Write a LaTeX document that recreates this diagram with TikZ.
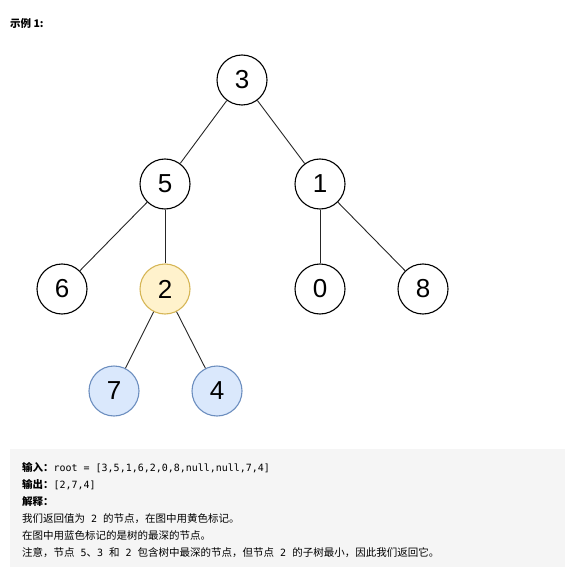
\documentclass[tikz,border=0pt]{standalone}
\usepackage{fontspec}
\setmainfont{Liberation Sans}
\newfontfamily\cjk{Noto Sans CJK SC}
\newfontfamily\codefont[Scale=0.95]{DejaVu Sans Mono}
\usepackage{xcolor}
\usetikzlibrary{positioning}
\definecolor{yellowfill}{HTML}{FFF2CC}
\definecolor{yellowline}{HTML}{D6B656}
\definecolor{bluefill}{HTML}{DAE8FC}
\definecolor{blueline}{HTML}{6C8EBF}
\definecolor{boxgray}{HTML}{F5F5F5}
\newcommand{\num}[1]{{\codefont\ #1\ }}

\begin{document}
\begin{tikzpicture}[x=1pt,y=-1pt]
	\tikzstyle{vertex}=[circle,draw=black,line width=1.1pt,fill=white,minimum size=50pt,inner sep=0pt,font=\fontsize{26}{26}\selectfont]
	\tikzstyle{root}=[vertex,fill=yellowfill,draw=yellowline]
	\tikzstyle{deep}=[vertex,fill=bluefill,draw=blueline]
	\tikzstyle{line}=[anchor=base west,inner sep=0pt,font=\cjk\fontsize{10.5}{10.5}\selectfont]
	\useasboundingbox (0,0) rectangle (565,577);
	\node[anchor=base west,inner sep=0pt,font=\cjk\bfseries\fontsize{10.5}{10.5}\selectfont] (title) at (10,28) {示例 1:};
	% tree
	\node[vertex](v3) at (242,80){3};
	\node[vertex](v5) at (165,184){5};
	\node[vertex](v1) at (320,184){1};
	\node[vertex](v6) at (62,289){6};
	\node[root](v2) at (165,289){2};
	\node[vertex](v0) at (320,289){0};
	\node[vertex](v8) at (423,289){8};
	\node[deep](v7) at (114,391){7};
	\node[deep](v4) at (217,391){4};
	\path[-,draw=black!85,line width=0.9pt]
		(v3) edge (v5)
		(v3) edge (v1)
		(v5) edge (v6)
		(v5) edge (v2)
		(v1) edge (v0)
		(v1) edge (v8)
		(v2) edge (v7)
		(v2) edge (v4);
	% explanation box
	\fill[boxgray] (10,449) rectangle (565,567);
	\node[line] (in) at (22,471) {\textbf{输入：}{\codefont root = [3,5,1,6,2,0,8,null,null,7,4]}};
	\node[line] (out) at (22,488) {\textbf{输出：}{\codefont [2,7,4]}};
	\node[line] (why) at (22,505) {\textbf{解释：}};
	\node[line] (l1) at (22,522) {我们返回值为\num{2}的节点，在图中用黄色标记。};
	\node[line] (l2) at (22,539) {在图中用蓝色标记的是树的最深的节点。};
	\node[line] (l3) at (22,556) {注意，节点{\codefont\ 5}、{\codefont 3\ }和\num{2}包含树中最深的节点，但节点\num{2}的子树最小，因此我们返回它。};
\end{tikzpicture}
\end{document}
